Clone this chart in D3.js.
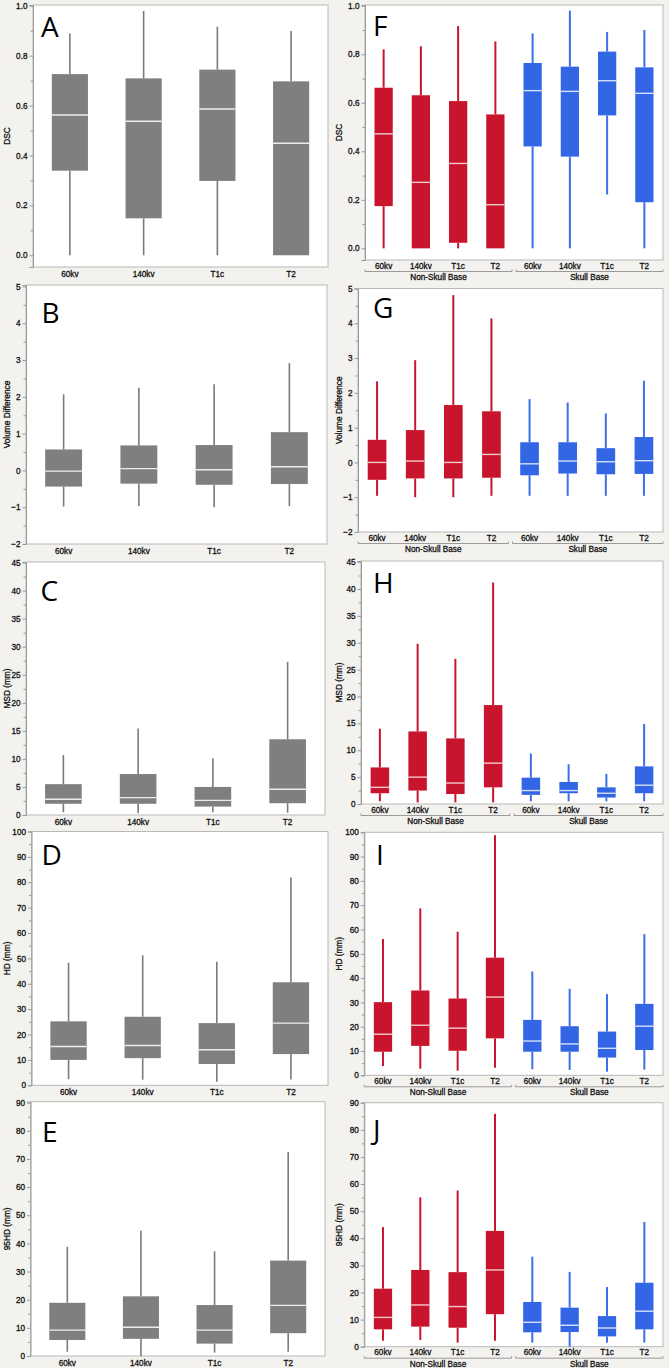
<!DOCTYPE html>
<html><head><meta charset="utf-8">
<script src="https://cdn.jsdelivr.net/npm/d3@7"></script>
<style>
html,body{margin:0;padding:0;background:#f3f2ee;}
svg{display:block;}
text.lbl{stroke:#111;stroke-width:0.3px;}
</style></head><body>
<svg id="c" width="669" height="1368"></svg>
<script>
// ---------- data ----------
const methods = ["60kv", "140kv", "T1c", "T2"];
const groups = ["Non-Skull Base", "Skull Base"];
// each box: [min, Q1, median, Q3, max]
const dscAll   = [[0,0.339,0.562,0.726,0.889],[0,0.148,0.537,0.709,0.979],[0,0.298,0.586,0.744,0.916],[0,0.0,0.449,0.697,0.899]];
const dscNonSB = [[0,0.174,0.472,0.662,0.820],[0,0.0,0.272,0.631,0.833],[0,0.023,0.350,0.607,0.916],[0,0.0,0.180,0.552,0.853]];
const dscSB    = [[0,0.420,0.650,0.764,0.886],[0,0.378,0.647,0.749,0.980],[0.222,0.548,0.691,0.811,0.892],[0,0.190,0.639,0.746,0.900]];

const volAll   = [[-0.98,-0.44,-0.02,0.57,2.07],[-0.97,-0.36,0.05,0.68,2.25],[-1.0,-0.39,0.02,0.69,2.34],[-0.97,-0.37,0.10,1.04,2.92]];
const volNonSB = [[-0.96,-0.50,0.0,0.65,2.33],[-1.0,-0.46,0.04,0.93,2.94],[-1.0,-0.46,0.0,1.65,4.81],[-0.96,-0.44,0.23,1.47,4.14]];
const volSB    = [[-0.96,-0.37,-0.04,0.58,1.82],[-0.96,-0.32,0.04,0.58,1.72],[-0.96,-0.34,0.02,0.41,1.41],[-0.96,-0.33,0.05,0.73,2.35]];

const msdAll   = [[0.5,2.0,2.8,5.5,10.7],[0.3,2.0,3.1,7.3,15.4],[0.5,1.5,2.6,5.0,10.1],[0.4,2.1,4.6,13.5,27.3]];
const msdNonSB = [[0.5,2.0,3.1,6.8,14.0],[0.3,2.5,5.0,13.5,29.8],[0.3,1.85,3.9,12.2,27.0],[0.3,3.1,7.6,18.4,41.2]];
const msdSB    = [[0.5,1.7,2.5,4.9,9.4],[0.5,2.0,2.5,4.1,7.4],[0.5,1.2,2.0,3.1,5.6],[0.5,2.0,3.5,7.0,14.9]];

const hdAll    = [[2.4,10.0,15.3,25.2,48.3],[2.2,10.7,15.7,27.0,51.2],[1.4,8.4,14.0,24.5,48.7],[2.3,12.3,24.5,40.6,81.9]];
const hdNonSB  = [[3.8,9.7,16.9,30.1,56.1],[2.7,12.1,20.6,34.9,68.7],[1.9,10.1,19.4,31.6,59.1],[3.1,15.2,32.2,48.4,98.8]];
const hdSB     = [[2.5,9.7,14.1,22.8,42.7],[2.2,9.7,12.9,20.2,35.6],[1.5,7.3,11.1,18.0,33.4],[2.3,10.4,20.2,29.4,58.1]];

const hd95All   = [[1.5,5.7,9.2,18.9,38.8],[0.0,6.1,10.2,21.2,44.5],[1.2,4.4,9.2,18.1,37.2],[1.5,8.1,18.0,33.9,72.5]];
const hd95NonSB = [[2.2,6.4,10.8,21.4,44.1],[2.5,7.4,15.4,28.3,55.1],[1.5,7.0,14.8,27.5,57.6],[2.2,12.0,28.3,42.7,85.9]];
const hd95SB    = [[1.5,5.3,9.0,16.5,33.2],[0.0,5.4,7.9,14.4,27.6],[1.5,3.8,6.9,11.3,22.0],[1.5,6.4,13.1,23.6,46.0]];

const dscTicks  = [0, 0.2, 0.4, 0.6, 0.8, 1.0];
const volTicks  = [-2, -1, 0, 1, 2, 3, 4, 5];
const msdTicks  = [0, 5, 10, 15, 20, 25, 30, 35, 40, 45];
const hdTicks   = [0, 10, 20, 30, 40, 50, 60, 70, 80, 90, 100];
const hd95Ticks = [0, 10, 20, 30, 40, 50, 60, 70, 80, 90];

const yTitles = ["DSC", "Volume Difference", "MSD (mm)", "HD (mm)", "95HD (mm)"];
const letters = ["A","B","C","D","E","F","G","H","I","J"];

// ---------- styles ----------
const GRAY = "#7f7f7f", RED = "#c8152d", BLUE = "#3366e4";
const FONT = "'Liberation Sans', Arial, Helvetica, sans-serif";
const svg = d3.select("#c");

// ---------- layout ----------
const leftPanels = [
  {x0:33,  x1:328, y0:5,      y1:267,    dom:[-0.047,1.003], ticks:dscTicks,  fmt:d3.format(".1f"), data:dscAll,  lx:41,   ly:37.3},
  {x0:26,  x1:327, y0:285,    y1:544,    dom:[-2,5.04],      ticks:volTicks,  fmt:d3.format("d"),   data:volAll,  lx:41.5, ly:322.7},
  {x0:26,  x1:325, y0:562,    y1:815,    dom:[0,45.1],       ticks:msdTicks,  fmt:d3.format("d"),   data:msdAll,  lx:40.5, ly:600.7},
  {x0:31.5,x1:328, y0:831.5,  y1:1085.3, dom:[0,100],        ticks:hdTicks,   fmt:d3.format("d"),   data:hdAll,   lx:41.5, ly:865},
  {x0:30.5,x1:325, y0:1101.7, y1:1356,   dom:[0,90.35],      ticks:hd95Ticks, fmt:d3.format("d"),   data:hd95All, lx:42,   ly:1141.7}
];
const rightPanels = [
  {x0:365,  x1:663, y0:5,      y1:260,    dom:[-0.048,1.003], ticks:dscTicks,  fmt:d3.format(".1f"), a:dscNonSB,  b:dscSB,  lx:373, ly:36},
  {x0:358,  x1:663, y0:288.5,  y1:532,    dom:[-2,5],         ticks:volTicks,  fmt:d3.format("d"),   a:volNonSB,  b:volSB,  lx:373, ly:318.3},
  {x0:361,  x1:663, y0:561,    y1:804,    dom:[0,45.2],       ticks:msdTicks,  fmt:d3.format("d"),   a:msdNonSB,  b:msdSB,  lx:373, ly:593.3},
  {x0:364.3,x1:663, y0:832.3,  y1:1075.3, dom:[0,100],        ticks:hdTicks,   fmt:d3.format("d"),   a:hdNonSB,   b:hdSB,   lx:376, ly:865},
  {x0:364.3,x1:663, y0:1102.7, y1:1346.7, dom:[0,90],         ticks:hd95Ticks, fmt:d3.format("d"),   a:hd95NonSB, b:hd95SB, lx:373, ly:1140}
];

function drawFrame(p, title, letter, titleX) {
  const g = svg.append("g");
  g.append("rect").attr("x", p.x0).attr("y", p.y0).attr("width", p.x1 - p.x0).attr("height", p.y1 - p.y0)
    .attr("fill", "#fff").attr("stroke", "#b8b8b8").attr("stroke-width", 1);
  const y = d3.scaleLinear().domain(p.dom).range([p.y1, p.y0]);
  const minors = [];
  for (let i = 0; i < p.ticks.length - 1; i++) minors.push((p.ticks[i] + p.ticks[i+1]) / 2);
  const minorAxis = d3.axisLeft(y).tickValues(minors).tickSize(2.5).tickFormat("");
  const ma = g.append("g").attr("transform", `translate(${p.x0},0)`).call(minorAxis);
  ma.select(".domain").remove();
  ma.selectAll("line").attr("stroke", "#9a9a9a");
  const axis = d3.axisLeft(y).tickValues(p.ticks).tickSize(3.5).tickPadding(2).tickFormat(p.fmt);
  const ax = g.append("g").attr("transform", `translate(${p.x0},0)`).call(axis);
  ax.select(".domain").attr("stroke", "#9a9a9a");
  ax.selectAll("line").attr("stroke", "#9a9a9a");
  ax.selectAll("text").attr("class", "lbl").attr("font-family", FONT).attr("font-size", 8.2).attr("fill", "#111");
  g.append("text").attr("class", "lbl").attr("transform", `translate(${titleX},${(p.y0 + p.y1) / 2}) rotate(-90)`)
    .attr("text-anchor", "middle").attr("dy", "0.35em")
    .attr("font-family", FONT).attr("font-size", 8.3).attr("fill", "#111").text(title);
  g.append("text").attr("x", p.lx).attr("y", p.ly)
    .attr("font-family", "'Open Sans', 'Noto Sans', sans-serif").attr("font-size", 28).attr("fill", "#000")
    .text(letter);
  return {g, y};
}

function drawBoxes(g, x, y, keys, data, color, whiskerColor, wWidth, medColor) {
  const bw = x.bandwidth() * 0.49;
  keys.forEach((k, i) => {
    const d = data[i];
    const cx = x(k) + x.bandwidth() / 2;
    g.append("line").attr("x1", cx).attr("x2", cx).attr("y1", y(d[0])).attr("y2", y(d[1]))
      .attr("stroke", whiskerColor).attr("stroke-width", wWidth);
    g.append("line").attr("x1", cx).attr("x2", cx).attr("y1", y(d[3])).attr("y2", y(d[4]))
      .attr("stroke", whiskerColor).attr("stroke-width", wWidth);
    g.append("rect").attr("x", cx - bw / 2).attr("width", bw)
      .attr("y", y(d[3])).attr("height", Math.max(0.5, y(d[1]) - y(d[3])))
      .attr("fill", color);
    g.append("line").attr("x1", cx - bw / 2).attr("x2", cx + bw / 2).attr("y1", y(d[2])).attr("y2", y(d[2]))
      .attr("stroke", medColor).attr("stroke-width", 1.4);
  });
}

leftPanels.forEach((p, i) => {
  const {g, y} = drawFrame(p, yTitles[i], letters[i], 7.5);
  const x = d3.scaleBand().domain(methods).range([p.x0, p.x1]);
  drawBoxes(g, x, y, methods, p.data, GRAY, "#7a7a7a", 1.6, "#ececec");
  g.selectAll(".xl").data(methods).enter().append("text").attr("class", "lbl")
    .attr("x", d => x(d) + x.bandwidth() / 2).attr("y", p.y1 + 9.5)
    .attr("text-anchor", "middle").attr("font-family", FONT).attr("font-size", 8.2).attr("fill", "#111")
    .text(d => d);
});

rightPanels.forEach((p, i) => {
  const {g, y} = drawFrame(p, yTitles[i], letters[i + 5], 339.5);
  const keys = [];
  groups.forEach(gr => methods.forEach(m => keys.push(gr + "|" + m)));
  const x = d3.scaleBand().domain(keys).range([p.x0, p.x1]);
  drawBoxes(g, x, y, keys.slice(0, 4), p.a, RED, RED, 2, "#f4c9cc");
  drawBoxes(g, x, y, keys.slice(4), p.b, BLUE, "#3d6fe6", 2, "#d6e0fb");
  g.selectAll(".xl").data(keys).enter().append("text").attr("class", "lbl")
    .attr("x", d => x(d) + x.bandwidth() / 2).attr("y", p.y1 + 8.7)
    .attr("text-anchor", "middle").attr("font-family", FONT).attr("font-size", 8.2).attr("fill", "#111")
    .text(d => d.split("|")[1]);
  groups.forEach((gr, gi) => {
    const gx0 = x(keys[gi * 4]) + (gi === 0 ? 0 : 2);
    const gx1 = x(keys[gi * 4 + 3]) + x.bandwidth() - (gi === 0 ? 2 : 0);
    const ly = p.y1 + 11.5;
    g.append("path").attr("d", `M${gx0},${ly - 2}V${ly}H${gx1}V${ly - 2}`)
      .attr("fill", "none").attr("stroke", "#9a9a9a").attr("stroke-width", 1);
    g.append("text").attr("class", "lbl").attr("x", (gx0 + gx1) / 2).attr("y", p.y1 + 19.8)
      .attr("text-anchor", "middle").attr("font-family", FONT).attr("font-size", 8.2).attr("fill", "#111")
      .text(gr);
  });
});
</script>
</body></html>
